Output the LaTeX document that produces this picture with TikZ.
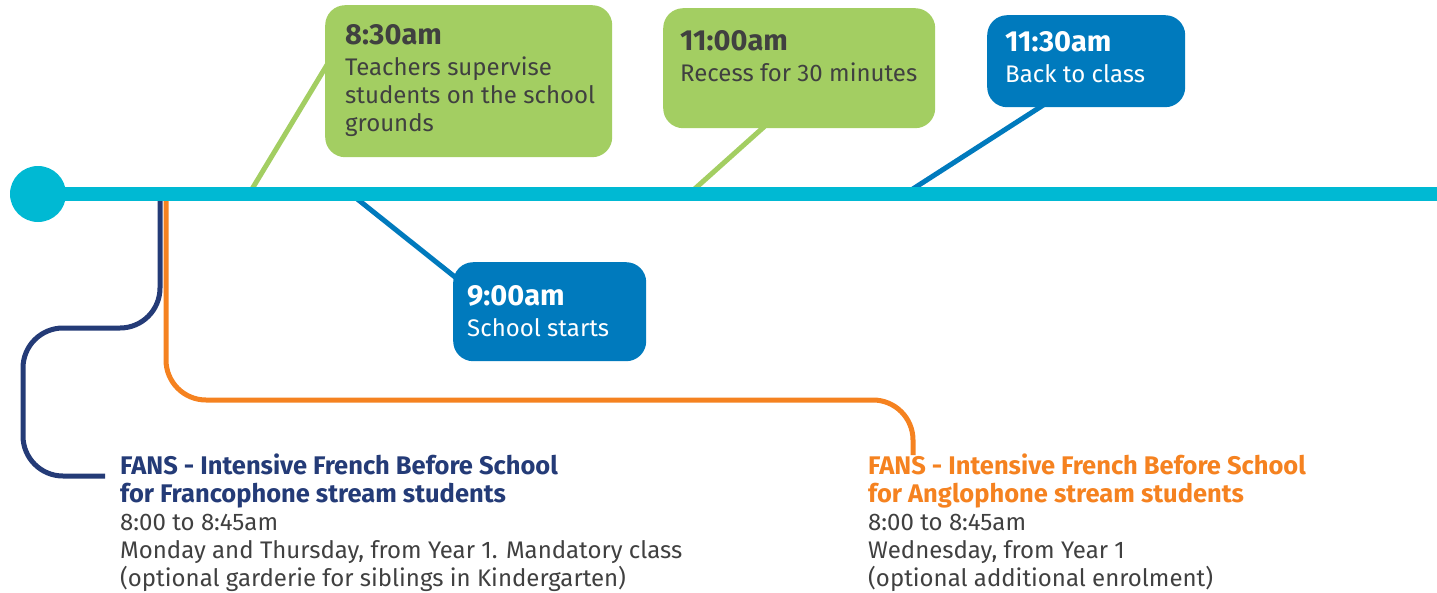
\documentclass[tikz,border=0pt]{standalone}
\usepackage{fontspec}
\setmainfont{Fira Sans}
\usetikzlibrary{positioning}
\definecolor{timecyan}{RGB}{0,185,211}
\definecolor{boxgreen}{RGB}{163,206,98}
\definecolor{boxblue}{RGB}{0,122,189}
\definecolor{fansnavy}{RGB}{36,59,119}
\definecolor{fansorange}{RGB}{245,130,32}
\definecolor{textgray}{RGB}{64,64,64}
\newcommand{\timefont}{\fontsize{29}{28}\selectfont\bfseries}
\newcommand{\headfont}{\fontsize{25.5}{28}\selectfont\bfseries}
\newcommand{\bodyfont}{\fontsize{24}{28}\selectfont}

\begin{document}
\begin{tikzpicture}[x=1pt,y=-1pt,line cap=butt,
    green box/.style={fill=boxgreen,rounded corners=20pt,anchor=north west,inner sep=0pt},
    blue box/.style={fill=boxblue,rounded corners=20pt,anchor=north west,inner sep=0pt},
    box text/.style={anchor=north west,inner sep=0pt,align=left,font=\bodyfont},
    stem/.style={line width=5pt}]
  \useasboundingbox (0,0) rectangle (1437,592);

  % points on the time line
  \coordinate (m830) at (249,194);
  \coordinate (m900) at (351,194);
  \coordinate (m1100) at (689,194);
  \coordinate (m1130) at (905,194);
  \coordinate (mfr) at (160,194);
  \coordinate (man) at (166,194);
  \coordinate (k830) at (336,50);
  \coordinate (k900) at (470,289);
  \coordinate (k1100) at (794,100);
  \coordinate (k1130) at (1076,84);

  % stems
  \path[stem,draw=boxgreen] (m830) edge (k830);
  \path[stem,draw=boxgreen] (m1100) edge (k1100);
  \path[stem,draw=boxblue] (m1130) edge (k1130);
  \path[stem,draw=boxblue] (m900) edge (k900);

  % branches to the FANS blocks
  \coordinate (efr) at (105,476);
  \coordinate (ean) at (913,455);
  \draw[line width=5pt,fansnavy,rounded corners=40pt] (mfr) -- (160,328) -- (23,328) -- (23,476) -- (efr);
  \draw[line width=5pt,fansorange,rounded corners=40pt] (man) -- (166,400) -- (913,400) -- (ean);

  % time line
  \node[circle,fill=timecyan,minimum size=56pt,inner sep=0pt] (start) at (38,194) {};
  \draw[line width=14pt,timecyan] (start.center) -- (1437,194);

  % boxes
  \node[green box,minimum width=287pt,minimum height=152pt] (b830) at (325,5) {};
  \node[green box,minimum width=272pt,minimum height=120pt] (b1100) at (663,8) {};
  \node[blue box,minimum width=198pt,minimum height=92pt] (b1130) at (987,15) {};
  \node[blue box,minimum width=193pt,minimum height=99pt] (b900) at (453,262) {};

  \node[box text,text=textgray] (l830) at (345,24.5) {{\timefont 8:30am}\\[3pt]Teachers supervise\\students on the school\\grounds};
  \node[box text,text=textgray] (l1100) at (680,30) {{\timefont 11:00am}\\[3pt]Recess for 30 minutes};
  \node[box text,text=white] (l1130) at (1005,31) {{\timefont 11:30am}\\[3pt]Back to class};
  \node[box text,text=white] (l900) at (467,285) {{\timefont 9:00am}\\[3pt]School starts};

  % FANS blocks
  \node[box text,text=textgray] (tfr) at (120,454) {{\headfont\color{fansnavy}FANS - Intensive French Before School}\\{\headfont\color{fansnavy}for Francophone stream students}\\8:00 to 8:45am\\Monday and Thursday, from Year 1. Mandatory class\\(optional garderie for siblings in Kindergarten)};
  \node[box text,text=textgray] (tan) at (868,454) {{\headfont\color{fansorange}FANS - Intensive French Before School}\\{\headfont\color{fansorange}for Anglophone stream students}\\8:00 to 8:45am\\Wednesday, from Year 1\\(optional additional enrolment)};
\end{tikzpicture}
\end{document}
